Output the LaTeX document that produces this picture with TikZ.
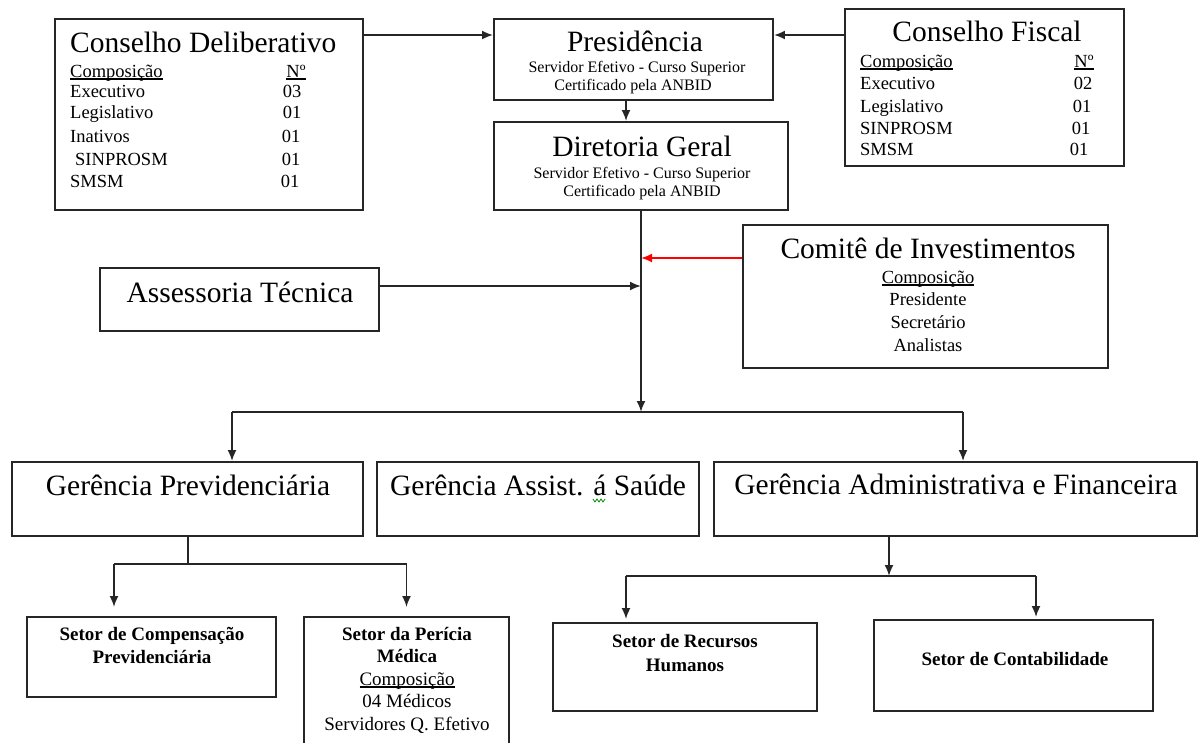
\documentclass[tikz,border=0pt]{standalone}
\usepackage{fontspec}
\setmainfont{Liberation Serif}
\usetikzlibrary{arrows.meta}
\newcommand\FTi{\fontsize{29.5}{31}\selectfont}
\newcommand\FRo{\fontsize{18.5}{20}\selectfont}
\newcommand\FSu{\fontsize{16}{18}\selectfont}
\newcommand\FBo{\fontsize{19}{21}\selectfont\bfseries}
\newcommand\FCo{\fontsize{19}{21}\selectfont}
\newcommand\ULn[1]{\setbox0\hbox{#1}\rlap{\rule[-2.6pt]{\wd0}{1.2pt}}\box0}
\begin{document}
\begin{tikzpicture}[x=1pt,y=-1pt,
  box/.style={draw=black!85, line width=1.9pt, inner sep=0pt, fill=white},
  arr/.style={-{Latex[length=11pt,width=9pt]}, line width=1.9pt, draw=black!85},
  ln/.style={line width=1.9pt, draw=black!85},
  tc/.style={inner sep=0pt, anchor=base},
  tl/.style={inner sep=0pt, anchor=base west},
  ti/.style={tc, font=\FTi},
  ro/.style={tl, font=\FRo},
  rn/.style={tc, font=\FRo},
  su/.style={tc, font=\FSu},
  bo/.style={tc, font=\FBo},
  co/.style={tc, font=\FCo}]
\useasboundingbox (0,0) rectangle (1199,742);
\clip (0,0) rectangle (1199,742);
\fill[white] (0,0) rectangle (1199,742);

% boxes
\node[box, minimum width=308pt, minimum height=191pt] (cd) at (209,114.5) {};
\node[box, minimum width=279pt, minimum height=81pt] (pres) at (633.5,59.5) {};
\node[box, minimum width=294pt, minimum height=88pt] (dg) at (641,166) {};
\node[box, minimum width=279pt, minimum height=157pt] (cf) at (984.5,87.5) {};
\node[box, minimum width=279pt, minimum height=63pt] (at) at (239.5,299.5) {};
\node[box, minimum width=365pt, minimum height=143pt] (ci) at (925.5,296.5) {};
\node[box, minimum width=351pt, minimum height=74pt] (gp) at (187.5,499) {};
\node[box, minimum width=322pt, minimum height=74pt] (ga) at (538,499) {};
\node[box, minimum width=483pt, minimum height=74pt] (gf) at (955.5,499) {};
\node[box, minimum width=249pt, minimum height=80pt] (sc) at (151.5,657) {};
\node[box, minimum width=205pt, minimum height=153pt] (sp) at (406.5,693.5) {};
\node[box, minimum width=264pt, minimum height=88pt] (rh) at (685,667) {};
\node[box, minimum width=279pt, minimum height=91pt] (ct) at (1013.5,665.5) {};

% Conselho Deliberativo
\node[tl, font=\FTi] (cdT) at (70,52) {Conselho Deliberativo};
\node[ro] (cdC) at (70,77) {\ULn{Composição}};
\node[ro] (cdE) at (70,97) {Executivo};
\node[ro] (cdL) at (70,118) {Legislativo};
\node[ro] (cdI) at (70,142) {Inativos};
\node[ro] (cdS) at (75,165) {SINPROSM};
\node[ro] (cdM) at (70,187) {SMSM};
\node[rn] (cdN0) at (296,77) {\ULn{Nº}};
\node[rn] (cdN1) at (292,97) {03};
\node[rn] (cdN2) at (292,118) {01};
\node[rn] (cdN3) at (291,142) {01};
\node[rn] (cdN4) at (291,165) {01};
\node[rn] (cdN5) at (290,187) {01};

% Presidencia
\node[ti] (presT) at (635,51) {Presidência};
\node[su] (presS1) at (637,72) {Servidor Efetivo - Curso Superior};
\node[su] (presS2) at (633,90) {Certificado pela ANBID};

% Diretoria Geral
\node[ti] (dgT) at (642,156) {Diretoria Geral};
\node[su] (dgS1) at (642,178) {Servidor Efetivo - Curso Superior};
\node[su] (dgS2) at (642,196) {Certificado pela ANBID};

% Conselho Fiscal
\node[ti] (cfT) at (987,41) {Conselho Fiscal};
\node[ro] (cfC) at (860,67) {\ULn{Composição}};
\node[ro] (cfE) at (860,89) {Executivo};
\node[ro] (cfL) at (860,112) {Legislativo};
\node[ro] (cfS) at (860,134) {SINPROSM};
\node[ro] (cfM) at (860,155) {SMSM};
\node[rn] (cfN0) at (1084,67) {\ULn{Nº}};
\node[rn] (cfN1) at (1083,89) {02};
\node[rn] (cfN2) at (1082,112) {01};
\node[rn] (cfN3) at (1081,134) {01};
\node[rn] (cfN4) at (1079,155) {01};

% Assessoria
\node[ti] (atT) at (240,302) {Assessoria Técnica};

% Comite
\node[ti] (ciT) at (928,258) {Comitê de Investimentos};
\node[rn] (ciC) at (928,283) {\ULn{Composição}};
\node[rn] (ciP) at (928,305) {Presidente};
\node[rn] (ciS) at (928,328) {Secretário};
\node[rn] (ciA) at (928,351) {Analistas};

% Gerencias
\node[ti] (gpT) at (188,495) {Gerência Previdenciária};
\node[ti] (gaT) at (538,495) {Gerência Assist. á Saúde};
\node[ti] (gfT) at (956,494) {Gerência Administrativa e Financeira};
\draw[green!55!black, line width=0.8pt] (593,499) -- ++(2,3) -- ++(2,-3) -- ++(2,3) -- ++(2,-3) -- ++(2,3) -- ++(2,-3);

% Setores
\node[bo] (scT1) at (152,640) {Setor de Compensação};
\node[bo] (scT2) at (152,663) {Previdenciária};
\node[bo] (spT1) at (407,640) {Setor da Perícia};
\node[bo] (spT2) at (407,662) {Médica};
\node[co] (spC) at (407,685) {\ULn{Composição}};
\node[co] (spM) at (407,707) {04 Médicos};
\node[co] (spS) at (407,730) {Servidores Q. Efetivo};
\node[bo] (rhT1) at (685,647) {Setor de Recursos};
\node[bo] (rhT2) at (685,671) {Humanos};
\node[bo] (ctT) at (1015,665) {Setor de Contabilidade};

% level coordinates
\coordinate (yTop) at (0,35);
\coordinate (yCI) at (0,258);
\coordinate (yAT) at (0,286);
\coordinate (yB1) at (0,412);
\coordinate (yB2) at (0,564);
\coordinate (yB3) at (0,576);
\coordinate (xPD) at (626,0);
\coordinate (xG1) at (232,0);
\coordinate (xG2) at (963,0);
\coordinate (xP) at (188,0);
\coordinate (xS1) at (114,0);
\coordinate (xA) at (889,0);
\coordinate (xR1) at (626,0);
\coordinate (xR2) at (1036,0);

% connectors
\draw[arr] (cd.east |- yTop) -- (pres.west |- yTop);
\draw[arr] (cf.west |- yTop) -- (pres.east |- yTop);
\draw[arr] (pres.south -| xPD) -- (dg.north -| xPD);
\draw[arr] (dg.south) -- (dg.south |- yB1);
\draw[arr, red] (ci.west |- yCI) -- (dg.south |- yCI);
\draw[arr] (at.east |- yAT) -- (dg.south |- yAT);
\draw[ln] (xG1 |- yB1) -- (xG2 |- yB1);
\draw[arr] (xG1 |- yB1) -- (gp.north -| xG1);
\draw[arr] (xG2 |- yB1) -- (gf.north -| xG2);
\draw[ln] (gp.south -| xP) -- (xP |- yB2);
\draw[ln] (xS1 |- yB2) -- (sp.north |- yB2);
\draw[arr, shorten >=9pt] (xS1 |- yB2) -- (sc.north -| xS1);
\draw[arr, shorten >=9pt] (sp.north |- yB2) -- (sp.north);
\draw[arr] (gf.south -| xA) -- (xA |- yB3);
\draw[ln] (xR1 |- yB3) -- (xR2 |- yB3);
\draw[arr, shorten >=3pt] (xR1 |- yB3) -- (rh.north -| xR1);
\draw[arr, shorten >=2pt] (xR2 |- yB3) -- (ct.north -| xR2);
\end{tikzpicture}
\end{document}
